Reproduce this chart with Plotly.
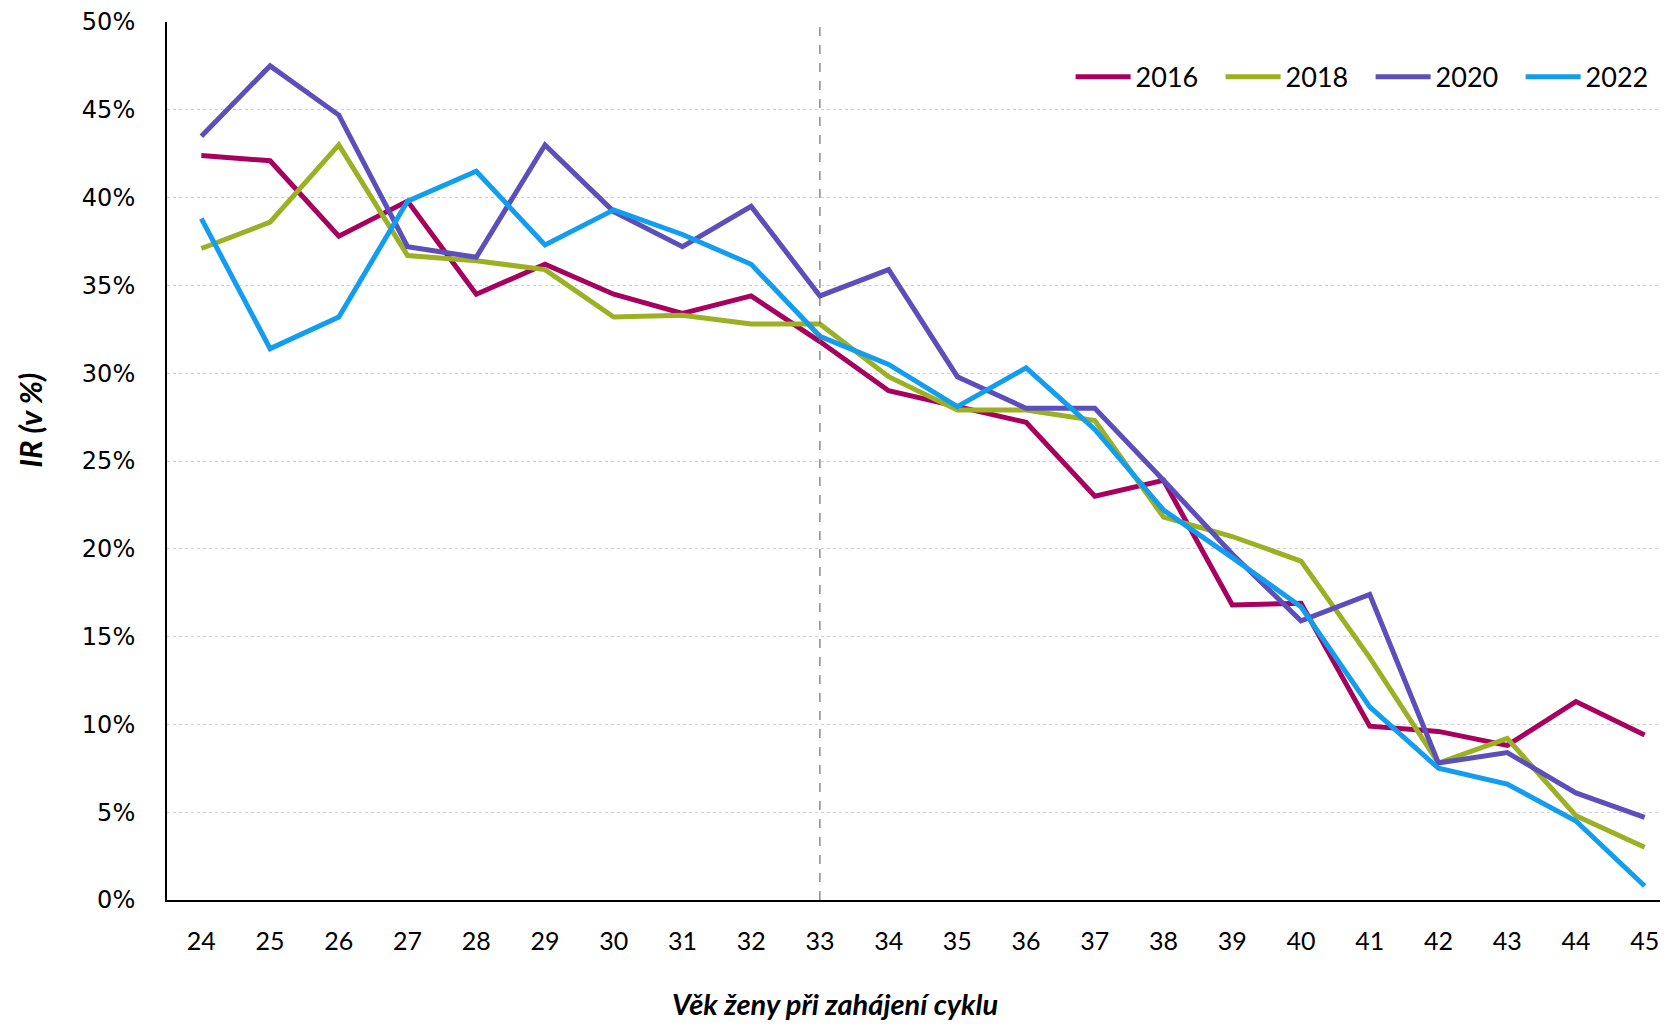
import plotly.graph_objects as go

ages = list(range(24, 46))
years = ["2016", "2018", "2020", "2022"]
ir_2016 = [42.4, 42.1, 37.8, 39.8, 34.5, 36.2, 34.5, 33.4, 34.4, 31.8, 29.0, 28.1, 27.2, 23.0, 23.9, 16.8, 16.9, 9.9, 9.6, 8.8, 11.3, 9.4]
ir_2018 = [37.1, 38.6, 43.0, 36.7, 36.4, 35.9, 33.2, 33.3, 32.8, 32.8, 29.8, 27.9, 27.9, 27.3, 21.8, 20.7, 19.3, 13.8, 7.8, 9.2, 4.8, 3.0]
ir_2020 = [43.5, 47.5, 44.7, 37.2, 36.6, 43.0, 39.2, 37.2, 39.5, 34.4, 35.9, 29.8, 28.0, 28.0, 23.9, 19.7, 15.9, 17.4, 7.8, 8.4, 6.1, 4.7]
ir_2022 = [38.8, 31.4, 33.2, 39.8, 41.5, 37.3, 39.3, 37.9, 36.2, 32.1, 30.5, 28.1, 30.3, 26.8, 22.2, 19.5, 16.7, 11.0, 7.5, 6.6, 4.5, 0.8]
y_ticks = [0, 5, 10, 15, 20, 25, 30, 35, 40, 45, 50]
y_tick_labels = ["0%", "5%", "10%", "15%", "20%", "25%", "30%", "35%", "40%", "45%", "50%"]
split_age = 33
x_title = "Věk ženy při zahájení cyklu"
y_title = "IR (v %)"

series = [ir_2016, ir_2018, ir_2020, ir_2022]
colors = ["#A8005F", "#9CB023", "#5C4EBB", "#139DEE"]

fig = go.Figure()
for name, vals, col in zip(years, series, colors):
    fig.add_trace(go.Scatter(x=ages, y=vals, mode="lines", name=name,
                             line=dict(color=col, width=5)))

fig.add_shape(type="line", x0=split_age, x1=split_age, xref="x", y0=0, y1=0.995, yref="paper",
              line=dict(color="#6E6E6E", width=1.2, dash="dash"))

narrow = "Lato, sans-serif"

fig.add_annotation(text="<b><i>" + x_title + "</i></b>", xref="paper", yref="paper",
                   x=0.445, y=-0.118, xanchor="center", yanchor="middle", showarrow=False,
                   font=dict(family=narrow, size=29, color="black"))
fig.add_annotation(text="<b><i>" + y_title + "</i></b>", xref="paper", yref="paper",
                   x=-0.0913, y=0.547, xanchor="center", yanchor="middle", showarrow=False,
                   textangle=-90, font=dict(family=narrow, size=31, color="black"))

fig.update_layout(
    width=1660, height=1018,
    margin=dict(l=159, r=0, t=14, b=126, autoexpand=False),
    paper_bgcolor="white", plot_bgcolor="white",
    showlegend=True,
    legend=dict(orientation="h", x=0.602, xanchor="left", y=0.937, yanchor="middle",
                font=dict(family=narrow, size=27, color="black"),
                bgcolor="rgba(0,0,0,0)", itemwidth=55, entrywidth=80, entrywidthmode="pixels"),
    xaxis=dict(range=[23.5, 45.34], tickmode="array", tickvals=ages,
               ticktext=[str(a) for a in ages], showgrid=False,
               showline=True, linecolor="black", linewidth=2, ticks="",
               ticklabelstandoff=18, automargin=False,
               tickfont=dict(family=narrow, size=25, color="black"),
               zeroline=False),
    yaxis=dict(range=[0, 50], tickmode="array", tickvals=y_ticks, ticktext=y_tick_labels,
               showgrid=True, gridcolor="#CFCFCF", griddash="dot", gridwidth=1,
               showline=True, linecolor="black", linewidth=2, ticks="",
               ticklabelstandoff=25, automargin=False,
               tickfont=dict(family="DejaVu Sans, sans-serif", size=24, color="black"),
               zeroline=False),
)

fig.write_html("out.html")
